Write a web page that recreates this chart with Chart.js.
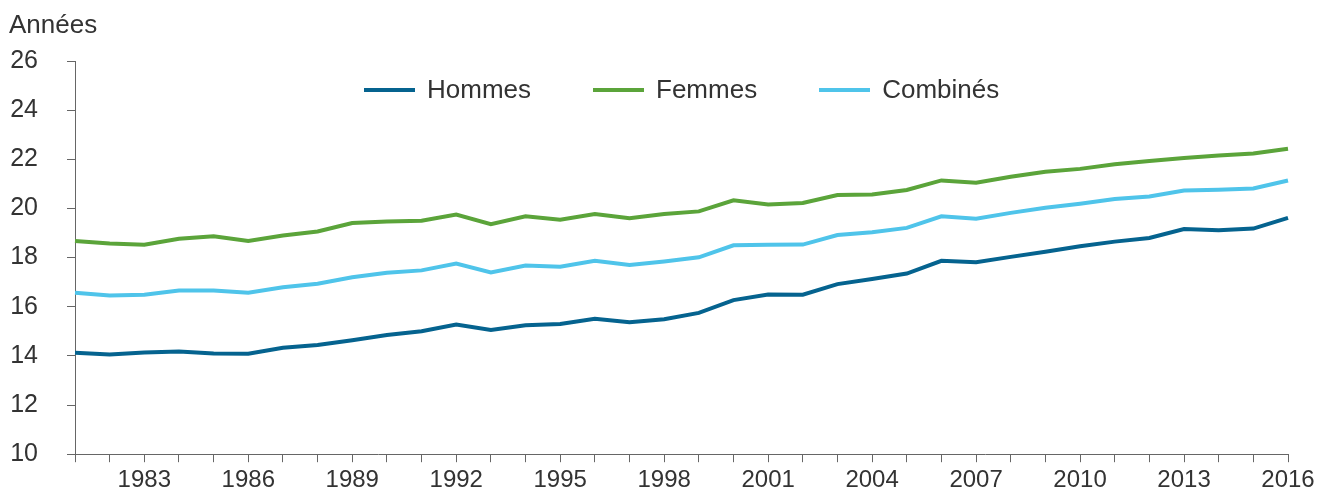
<!DOCTYPE html>
<html>
<head>
<meta charset="utf-8">
<style>
  body { margin: 0; background: #fff; font-family: "Liberation Sans", Arial, sans-serif; }
  .wrap { position: relative; width: 1332px; height: 494px; overflow: hidden; }
  canvas { display: block; }
  .unit { position: absolute; left: 9px; top: 9px; font-size: 26px; color: #333; }
  .legend { position: absolute; top: 74px; left: 364px; display: flex; font-size: 26px; color: #333; }
  .legend span { display: flex; align-items: center; margin-right: 62px; }
  .legend i { display: inline-block; width: 51px; height: 4px; margin-right: 12px; }
</style>
</head>
<body>
<div class="wrap">
  <!-- canvas a few px taller than the frame so the x axis lands where the original has it -->
  <canvas id="lifeChart" width="1332" height="499"></canvas>
  <div class="unit">Années</div>
  <div class="legend" id="legend"></div>
</div>

<script src="https://cdn.jsdelivr.net/npm/chart.js"></script>
<script>
const years = [];
for (let y = 1981; y <= 2016; y++) years.push(String(y));

const hommes = [14.13, 14.06, 14.14, 14.18, 14.10, 14.09, 14.33, 14.44, 14.64, 14.85,
  15.00, 15.28, 15.05, 15.25, 15.30, 15.51, 15.37, 15.49, 15.75, 16.27,
  16.50, 16.49, 16.92, 17.13, 17.35, 17.87, 17.81, 18.03, 18.24, 18.46,
  18.65, 18.80, 19.16, 19.11, 19.18, 19.62];

const femmes = [18.68, 18.57, 18.52, 18.77, 18.87, 18.68, 18.90, 19.06, 19.41, 19.47,
  19.50, 19.75, 19.36, 19.68, 19.54, 19.77, 19.60, 19.77, 19.88, 20.33,
  20.16, 20.22, 20.55, 20.57, 20.75, 21.14, 21.05, 21.29, 21.49, 21.61,
  21.80, 21.93, 22.05, 22.15, 22.24, 22.43];

const combines = [16.57, 16.46, 16.49, 16.66, 16.66, 16.57, 16.79, 16.94, 17.20, 17.38,
  17.48, 17.76, 17.40, 17.68, 17.63, 17.87, 17.70, 17.84, 18.01, 18.50,
  18.52, 18.53, 18.92, 19.03, 19.21, 19.68, 19.58, 19.82, 20.03, 20.19,
  20.38, 20.49, 20.73, 20.76, 20.81, 21.14];

const seriesNames = ["Hommes", "Femmes", "Combinés"];
const seriesColors = ["#05638f", "#5ba43a", "#4fc4ea"];

const axisColor = "#666";
const textColor = "#333";

const datasets = [hommes, femmes, combines].map((d, i) => ({
  label: seriesNames[i],
  data: d,
  borderColor: seriesColors[i],
  backgroundColor: seriesColors[i],
  borderWidth: 4,
  pointRadius: 0,
  tension: 0,
  fill: false
}));

// legend sits inside the plot area in the original, so it's plain html on top
const legendEl = document.getElementById("legend");
seriesNames.forEach((n, i) => {
  const s = document.createElement("span");
  s.innerHTML = '<i style="background:' + seriesColors[i] + '"></i>' + n;
  legendEl.appendChild(s);
});

new Chart(document.getElementById("lifeChart"), {
  type: "line",
  data: { labels: years, datasets: datasets },
  options: {
    responsive: false,
    animation: false,
    layout: { padding: { top: 61, right: 44, left: 0, bottom: 0 } },
    plugins: { legend: { display: false }, tooltip: { enabled: false } },
    scales: {
      x: {
        offset: false,
        grid: { drawOnChartArea: false, drawTicks: true, tickLength: 8, color: axisColor },
        border: { display: true, color: axisColor, width: 1 },
        ticks: {
          autoSkip: false,
          maxRotation: 0,
          padding: 4,
          color: textColor,
          font: { family: "Liberation Sans", size: 24 },
          callback: function (val) {
            const yr = Number(this.getLabelForValue(val));
            return (yr - 1983) % 3 === 0 ? String(yr) : "";
          }
        }
      },
      y: {
        min: 10,
        max: 26,
        grid: { drawOnChartArea: false, drawTicks: true, tickLength: 8, color: axisColor },
        border: { display: true, color: axisColor, width: 1 },
        ticks: {
          stepSize: 2,
          padding: 29,
          color: textColor,
          font: { family: "Liberation Sans", size: 25 }
        },
        afterFit: s => { s.width = 75; }
      }
    }
  }
});
</script>
</body>
</html>
